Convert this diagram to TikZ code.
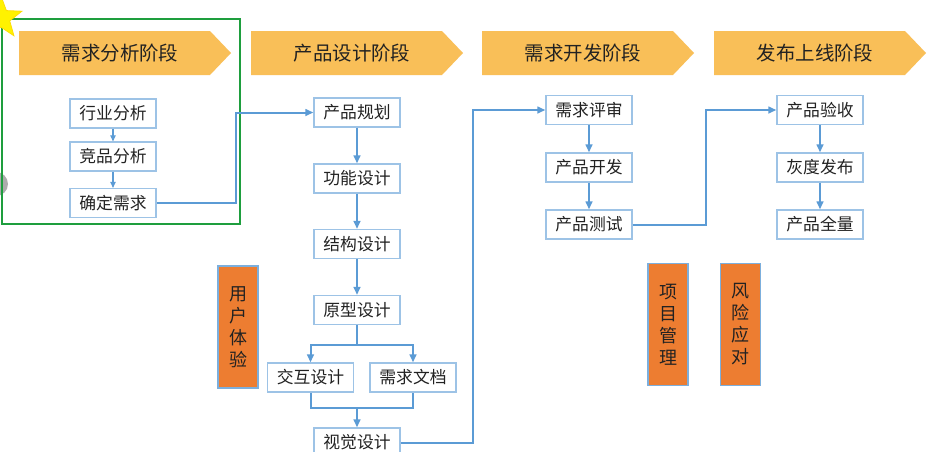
\documentclass[tikz,border=0pt]{standalone}
\usepackage{fontspec}
\setmainfont{Noto Sans CJK SC}
\usetikzlibrary{arrows.meta,shapes.geometric,calc}
\definecolor{bannerc}{HTML}{F9BF58}
\definecolor{orangec}{HTML}{ED7D31}
\definecolor{boxline}{HTML}{9DC3E6}
\definecolor{linkc}{HTML}{5B9BD5}
\definecolor{greenc}{HTML}{1E9E3E}
\definecolor{txtc}{HTML}{222222}
\tikzset{
  stagebox/.style={draw=boxline, line width=0.9pt, fill=white, minimum width=64.5pt, minimum height=21.75pt, inner sep=0pt, font=\fontsize{12.6pt}{14pt}\selectfont, text=txtc},
  vbox/.style={draw=linkc!80, line width=1.2pt, fill=orangec, minimum width=30pt, minimum height=91.5pt, inner sep=0pt, align=center, font=\fontsize{13.5pt}{16.5pt}\selectfont, text=txtc},
  bannertext/.style={font=\fontsize{14.6pt}{16pt}\selectfont, text=txtc, inner sep=0pt},
  link/.style={draw=linkc, line width=1.5pt},
  linkarrow/.style={link, -{Triangle[length=6pt,width=5pt]}},
  thinarrow/.style={draw=linkc, line width=0.8pt, -{Triangle[length=4.5pt,width=4pt]}}
}
\begin{document}
\begin{tikzpicture}[x=0.75pt,y=-0.75pt]
\useasboundingbox (0,0) rectangle (929,451);
\clip (0,0) rectangle (929,451);
\fill[white] (0,0) rectangle (929,451);

% grey mark at left edge
\node[circle, fill=gray!65, minimum size=18pt, inner sep=0pt] (gc) at (-4,184) {};

% banners
\foreach \x/\t/\n in {19/需求分析阶段/b1, 251/产品设计阶段/b2, 482/需求开发阶段/b3, 714/发布上线阶段/b4}{
  \fill[bannerc] (\x,31) -- ++(191,0) -- ++(21,22) -- ++(-21,22) -- ++(-191,0) -- cycle;
  \node[bannertext] (\n) at (\x+101,53) {\t};
}

% green frame
\draw[greenc, line width=1.9pt] (2,19) rectangle (240,224);

% star
\node[star, star points=5, star point ratio=2.4, minimum size=33pt, inner sep=0pt, fill=yellow, draw=yellow!80!orange, line width=0.6pt] (st) at (1,18) {};

% column 1
\node[stagebox] (hyfx) at (113,113.5) {行业分析};
\node[stagebox] (jpfx) at (113,156.5) {竞品分析};
\node[stagebox] (qdxq) at (113,203) {确定需求};
\draw[thinarrow] (hyfx) -- (jpfx);
\draw[thinarrow] (jpfx) -- (qdxq);

% column 2
\node[stagebox] (cpgh) at (357,112.5) {产品规划};
\node[stagebox] (gnsj) at (357,178.5) {功能设计};
\node[stagebox] (jgsj) at (357,244) {结构设计};
\node[stagebox] (yxsj) at (357,310) {原型设计};
\node[stagebox] (jhsj) at (310.5,377.5) {交互设计};
\node[stagebox] (xqwd) at (413,377.5) {需求文档};
\node[stagebox] (sjsj) at (357,442.5) {视觉设计};
\draw[linkarrow] (cpgh) -- (gnsj);
\draw[linkarrow] (gnsj) -- (jgsj);
\draw[linkarrow] (jgsj) -- (yxsj);
\draw[link] (yxsj.south) -- ++(0,20) coordinate (split);
\draw[linkarrow] (split) -| (jhsj.north);
\draw[linkarrow] (split) -| (xqwd.north);
\coordinate (merge) at ($(sjsj.north)+(0,-19)$);
\draw[link] (jhsj.south) |- (merge) -| (xqwd.south);
\draw[linkarrow] (merge) -- (sjsj.north);

% column 3
\node[stagebox] (xqps) at (589,110) {需求评审};
\node[stagebox] (cpkf) at (589,167.5) {产品开发};
\node[stagebox] (cpcs) at (589,224.5) {产品测试};
\draw[linkarrow] (xqps) -- (cpkf);
\draw[linkarrow] (cpkf) -- (cpcs);

% column 4
\node[stagebox] (cpys) at (820,110) {产品验收};
\node[stagebox] (hdfb) at (820,167.5) {灰度发布};
\node[stagebox] (cpql) at (820,224.5) {产品全量};
\draw[linkarrow] (cpys) -- (hdfb);
\draw[linkarrow] (hdfb) -- (cpql);

% stage links
\draw[linkarrow] (qdxq.east) -- ++(79,0) |- (cpgh.west);
\draw[linkarrow] (sjsj.east) -- ++(72,0) |- (xqps.west);
\draw[linkarrow] (cpcs.east) -- ++(73,0) |- (cpys.west);

% orange vertical boxes
\node[vbox] (yhty) at (238,327) {用\\户\\体\\验};
\node[vbox] (xmgl) at (668,324.5) {项\\目\\管\\理};
\node[vbox] (fxyd) at (740.5,324.5) {风\\险\\应\\对};
\end{tikzpicture}
\end{document}
